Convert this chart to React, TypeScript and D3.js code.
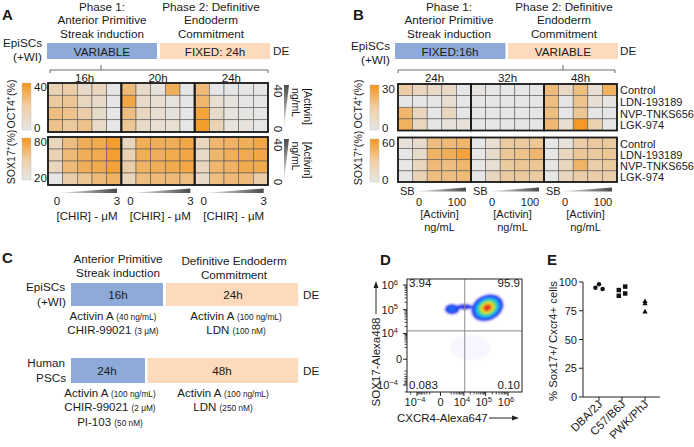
import React, { useEffect } from 'react';
import * as d3 from 'd3';

const FONT = "'Liberation Sans', Arial, Helvetica, sans-serif";
const INK = '#1a1a1a';
const LOW = '#e6e6e6';
const HIGH = '#f6961c';
const BLUE = '#8eaad8';
const PEACH = '#fcdabb';

// ---------- shared header text ----------
const phase1Lines = ['Phase 1:', 'Anterior Primitive', 'Streak induction'];
const phase2Lines = ['Phase 2: Definitive', 'Endoderm', 'Commitment'];
const cellLines = ['EpiSCs', '(+WI)'];

// ---------- Panel A ----------
const aBarLabels = ['VARIABLE', 'FIXED: 24h'];
const aTimes = ['16h', '20h', '24h'];
// rows: [Activin] 40 -> 0 ; cols: [CHIR] 0 -> 3 uM
const aOct4 = [
  [[10, 12, 6, 8, 0], [14, 16, 8, 6, 0], [20, 18, 12, 6, 0], [18, 14, 18, 6, 0]],
  [[22, 6, 2, 28, 0], [32, 6, 4, 2, 0], [20, 8, 4, 2, 0], [16, 6, 4, 4, 0]],
  [[22, 0, 0, 0, 0], [24, 4, 2, 0, 0], [34, 6, 2, 1, 0], [36, 10, 2, 2, 0]],
];
const aSox17 = [
  [[32, 50, 62, 65, 74], [35, 53, 62, 65, 74], [32, 53, 62, 65, 71], [20, 38, 44, 53, 59]],
  [[32, 62, 62, 62, 68], [35, 62, 62, 65, 68], [38, 59, 62, 65, 68], [32, 50, 53, 53, 50]],
  [[32, 56, 59, 62, 68], [29, 56, 62, 65, 68], [32, 56, 59, 65, 65], [29, 50, 53, 53, 38]],
];
const aOct4Range = [0, 40];
const aSox17Range = [20, 80];
const aChirTicks = ['0', '3'];
const aActivinTicks = ['40', '0'];

// ---------- Panel B ----------
const bBarLabels = ['FIXED:16h', 'VARIABLE'];
const bTimes = ['24h', '32h', '48h'];
const bTreatments = ['Control', 'LDN-193189', 'NVP-TNKS656', 'LGK-974'];
// rows: treatments ; cols: SB, [Activin] 0 -> 100 ng/mL
const bOct4 = [
  [[10, 6, 5, 5, 0], [0, 0, 0, 3, 0], [18, 6, 0, 6, 0], [20, 6, 0, 2, 2]],
  [[1, 0, 0, 0, 0], [0, 0, 0, 0, 0], [0, 0, 0, 0, 0], [0, 0, 0, 0, 0]],
  [[16, 5, 15, 3, 20], [15, 0, 13, 3, 1], [15, 0, 12, 0, 0], [17, 3, 29, 8, 0]],
];
const bSox17 = [
  [[4, 8, 30, 33, 36], [0, 9, 39, 42, 51], [0, 12, 33, 30, 36], [0, 15, 30, 30, 33]],
  [[0, 6, 21, 21, 24], [0, 9, 24, 27, 36], [0, 6, 21, 24, 24], [0, 12, 21, 21, 21]],
  [[0, 3, 18, 21, 21], [0, 12, 24, 21, 24], [0, 12, 39, 18, 21], [0, 12, 18, 18, 18]],
];
const bOct4Range = [0, 30];
const bSox17Range = [0, 60];
const bActivinTicks = ['0', '100'];

// ---------- Panel C ----------
const cHeaders = [['Anterior Primitive', 'Streak induction'], ['Definitive Endoderm', 'Commitment']];
const cCells = [['EpiSCs', '(+WI)'], ['Human', 'PSCs']];
const cPhase1Hours = ['16h', '24h'];
const cPhase2Hours = ['24h', '48h'];
const cPhase1Reagents = [
  [['Activin A', '(40 ng/mL)'], ['CHIR-99021', '(3 μM)']],
  [['Activin A', '(100 ng/mL)'], ['CHIR-99021', '(2 μM)'], ['PI-103', '(50 nM)']],
];
const cPhase2Reagents = [
  [['Activin A', '(100 ng/mL)'], ['LDN', '(100 nM)']],
  [['Activin A', '(100 ng/mL)'], ['LDN', '(250 nM)']],
];

// ---------- Panel D ----------
const dQuadrants = ['3.94', '95.9', '0.083', '0.10'];
const dTicks = [-1e4, 0, 1e4, 1e5, 1e6];
const dTickExp = ['-4', '', '4', '5', '6'];
const dXLim = [-29600, 4.18e6];
const dYLim = [-20100, 1.75e6];
const dGate = [1.1e4, 1.3e4];
// populations: centre (fluorescence units), spread (decades), relative peak density
const dPopX = [1.2e5, 2300, 1.1e4, 2.0e4];
const dPopY = [1.2e5, 1.05e5, 1.3e5, 2.0e3];
const dPopSx = [0.29, 0.2, 0.3, 0.8];
const dPopSy = [0.2, 0.13, 0.1, 0.45];
const dPopPeak = [1, 0.12, 0.06, 0.02];
const dPopAngle = [-25, 0, 0, 0];
const dLevels = [0.01, 0.03, 0.08, 0.16, 0.3, 0.45, 0.6, 0.75, 0.88];
const dLevelColors = ['#e6e8fb', '#2233ee', '#1f6ff5', '#1fc0ec', '#3ddc6a', '#c8e62c', '#f4d21e', '#f3761f', '#e2242b'];

// ---------- Panel E ----------
const eStrains = ['DBA/2J', 'C57/B6J', 'PWK/PhJ'];
const eDBA = [95, 98, 94];
const eC57 = [93, 88, 96, 90];
const ePWK = [83, 81, 74];
const eTicks = [0, 25, 50, 75, 100];

// ------------------------------------------------------------------
const Txt = (p: any) => <text fill={INK} fontFamily={FONT} {...p} />;

function Heatmap({ groups, x0, x1, y0, y1, domain }: any) {
  const nG = groups.length, nR = groups[0].length, nC = groups[0][0].length;
  const xs = d3.scaleBand<number>().domain(d3.range(nG * nC)).range([x0, x1]);
  const ys = d3.scaleBand<number>().domain(d3.range(nR)).range([y0, y1]);
  const color = d3.scaleLinear<string>().domain(domain).range([LOW, HIGH]).clamp(true);
  return (
    <g>
      {groups.map((g: number[][], gi: number) =>
        g.map((row, ri) =>
          row.map((v, ci) => (
            <rect key={`${gi}-${ri}-${ci}`} x={xs(gi * nC + ci)} y={ys(ri)} width={xs.bandwidth()} height={ys.bandwidth()}
              fill={color(v)} stroke="#5c5c5c" strokeWidth={0.6} />
          ))
        )
      )}
      {groups.map((_: any, gi: number) => (
        <rect key={'b' + gi} x={xs(gi * nC)} y={y0} width={xs.bandwidth() * nC} height={y1 - y0}
          fill="none" stroke="#1a1a1a" strokeWidth={1.8} />
      ))}
    </g>
  );
}

function groupStarts(n: number, x0: number, x1: number) {
  const s = d3.scaleBand<number>().domain(d3.range(n)).range([x0, x1]);
  return d3.range(n).map((i) => ({ start: s(i) as number, w: s.bandwidth(), c: (s(i) as number) + s.bandwidth() / 2 }));
}

function Rot({ x, y, a, children, ...rest }: any) {
  return (
    <Txt transform={`translate(${x},${y}) rotate(${a})`} textAnchor="middle" {...rest}>{children}</Txt>
  );
}

function Header({ cx1, cx2, y0 }: any) {
  return (
    <g fontSize={11.7}>
      {phase1Lines.map((t, i) => <Txt key={'p1' + i} x={cx1} y={y0 + i * 13.7} textAnchor="middle">{t}</Txt>)}
      {phase2Lines.map((t, i) => <Txt key={'p2' + i} x={cx2} y={y0 + i * 13.7} textAnchor="middle">{t}</Txt>)}
    </g>
  );
}

function ColorBar({ x, y, h, ticks, label, labelX, labelY }: any) {
  return (
    <g>
      <rect x={x} y={y} width={9} height={h} fill="url(#cbar)" stroke="#bbb" strokeWidth={0.4} />
      <Txt x={x + 12} y={y + 8} fontSize={11.5}>{ticks[1]}</Txt>
      <Txt x={x + 12} y={y + h + 1.5} fontSize={11.5}>{ticks[0]}</Txt>
      <Rot x={labelX} y={labelY} a={-90} fontSize={10.6}>
        {label}<tspan dy={-4} fontSize={7}>+</tspan><tspan dy={4}>(%)</tspan>
      </Rot>
    </g>
  );
}

function Sup({ base, exp }: any) {
  if (!exp) return <>{base}</>;
  return <>{base}<tspan dy={-4.5} fontSize={7.5}>{exp.replace('-', '−')}</tspan></>;
}

export default function App() {
  useEffect(() => { document.body.style.margin = '0'; }, []);

  // ---------- A layout ----------
  const aX0 = 48, aX1 = 268;
  const aGroups = groupStarts(3, aX0, aX1);
  // ---------- B layout ----------
  const bX0 = 398, bX1 = 617;
  const bGroups = groupStarts(3, bX0, bX1);
  const bRowsO = d3.scaleBand<number>().domain(d3.range(4)).range([84, 130.5]);
  const bRowsS = d3.scaleBand<number>().domain(d3.range(4)).range([137.5, 182]);

  // ---------- D scales ----------
  const dx = d3.scaleSymlog().constant(1000).domain(dXLim).range([407, 522]);
  const dy = d3.scaleSymlog().constant(1000).domain(dYLim).range([392, 279]);
  const decX = dx(1e5) - dx(1e4);
  const decY = dy(1e4) - dy(1e5);
  const minor: number[] = [];
  [1e3, 1e4, 1e5].forEach((p) => d3.range(2, 10).forEach((m) => { minor.push(m * p); minor.push(-m * p); }));
  const minorX = minor.filter((v) => v > dXLim[0] && v < dXLim[1]);
  const minorY = minor.filter((v) => v > dYLim[0] && v < dYLim[1]);

  // ---------- E scales ----------
  const ey = d3.scaleLinear().domain([0, 100]).range([397, 282]);
  const ex = d3.scalePoint<string>().domain(eStrains).range([599, 645]);
  const eSeries = [
    { name: eStrains[0], vals: eDBA, shape: d3.symbolCircle, size: 16, cols: 3, gap: 3.6 },
    { name: eStrains[1], vals: eC57, shape: d3.symbolSquare, size: 20, cols: 2, gap: 6.4 },
    { name: eStrains[2], vals: ePWK, shape: d3.symbolTriangle, size: 12, cols: 1, gap: 0 },
  ];

  const hWedge = (x0: number, x1: number, y0: number, y1: number) => `M${x0},${y1} L${x1},${y0} L${x1},${y1} Z`;
  const vWedge = (x0: number, x1: number, y0: number, y1: number) => `M${x0},${y0} L${x1},${y0} L${x0},${y1} Z`;

  return (
    <svg width={694} height={447} style={{ position: 'absolute', left: 0, top: 0, background: '#fff' }} fontFamily={FONT}>
      <defs>
        <linearGradient id="cbar" x1="0" y1="0" x2="0" y2="1">
          <stop offset="0" stopColor={HIGH} />
          <stop offset="0.5" stopColor="#f0cfa4" />
          <stop offset="1" stopColor={LOW} />
        </linearGradient>
        <linearGradient id="hw" x1="0" y1="0" x2="1" y2="0">
          <stop offset="0" stopColor="#f2f2f2" />
          <stop offset="1" stopColor="#4a4a4a" />
        </linearGradient>
        <linearGradient id="vw" x1="0" y1="1" x2="0" y2="0">
          <stop offset="0" stopColor="#f2f2f2" />
          <stop offset="1" stopColor="#4a4a4a" />
        </linearGradient>
        <filter id="soft" x="-20%" y="-20%" width="140%" height="140%">
          <feGaussianBlur stdDeviation="0.8" />
        </filter>
        <clipPath id="dclip"><rect x={407} y={279} width={115} height={113} /></clipPath>
      </defs>

      {/* ================= Panel A ================= */}
      <Txt x={2} y={20} fontSize={15} fontWeight="bold">A</Txt>
      <Header cx1={102} cx2={211} y0={10.5} />
      <g fontSize={11.7}>
        <Txt x={42} y={47} textAnchor="end">{cellLines[0]}</Txt>
        <Txt x={42} y={61} textAnchor="end">{cellLines[1]}</Txt>
      </g>
      <rect x={47} y={43} width={110} height={16} fill={BLUE} />
      <rect x={160} y={43} width={110} height={16} fill={PEACH} />
      <Txt x={102} y={55.5} fontSize={11.7} textAnchor="middle">{aBarLabels[0]}</Txt>
      <Txt x={215} y={55.5} fontSize={11.7} textAnchor="middle">{aBarLabels[1]}</Txt>
      <Txt x={273} y={55} fontSize={11.7}>DE</Txt>
      <path d={`M${aX0 + 2},73 V70 H${aX1} V73 M101,70 V65`} fill="none" stroke="#444" strokeWidth={0.8} />
      {aGroups.map((g, i) => <Txt key={'at' + i} x={g.c} y={81.5} fontSize={11.5} textAnchor="middle">{aTimes[i]}</Txt>)}
      <Heatmap groups={aOct4} x0={aX0} x1={aX1} y0={83} y1={132} domain={aOct4Range} />
      <Heatmap groups={aSox17} x0={aX0} x1={aX1} y0={137} y1={185} domain={aSox17Range} />
      <ColorBar x={22} y={83} h={47} ticks={aOct4Range.map(String)} label="OCT4" labelX={15} labelY={104} />
      <ColorBar x={22} y={138} h={42} ticks={aSox17Range.map(String)} label="SOX17" labelX={15} labelY={157} />
      {/* right side activin wedges */}
      {[[83, 132], [137, 185]].map(([y0, y1], i) => (
        <g key={'aw' + i}>
          <path d={vWedge(284, 289, y0 + 2, y1 - 4)} fill="url(#vw)" />
          <Rot x={274} y={y0 + 8} a={90} fontSize={11.5}>{aActivinTicks[0]}</Rot>
          <Rot x={274} y={y1 - 3} a={90} fontSize={11.5}>{aActivinTicks[1]}</Rot>
          <Rot x={292} y={(y0 + y1) / 2 - 5} a={90} fontSize={10.5}>ng/mL</Rot>
          <Rot x={303.5} y={(y0 + y1) / 2 - 1} a={90} fontSize={10.5}>[Activin]</Rot>
        </g>
      ))}
      {aGroups.map((g, i) => {
        const x0 = g.start + 9, x1 = g.start + 69;
        return (
          <g key={'ab' + i}>
            <path d={hWedge(x0, x1, 188.5, 193)} fill="url(#hw)" />
            <Txt x={x0} y={205} fontSize={11.5} textAnchor="middle">{aChirTicks[0]}</Txt>
            <Txt x={x1} y={205} fontSize={11.5} textAnchor="middle">{aChirTicks[1]}</Txt>
            <Txt x={(x0 + x1) / 2} y={220} fontSize={11.5} textAnchor="middle">[CHIR] - μM</Txt>
          </g>
        );
      })}

      {/* ================= Panel B ================= */}
      <Txt x={353} y={20} fontSize={15} fontWeight="bold">B</Txt>
      <Header cx1={449} cx2={564} y0={10.5} />
      <g fontSize={11.7}>
        <Txt x={390} y={50} textAnchor="end">{cellLines[0]}</Txt>
        <Txt x={390} y={63.5} textAnchor="end">{cellLines[1]}</Txt>
      </g>
      <rect x={395} y={43} width={110.5} height={16} fill={BLUE} />
      <rect x={508} y={43} width={110} height={16} fill={PEACH} />
      <Txt x={450} y={55.5} fontSize={11.7} textAnchor="middle">{bBarLabels[0]}</Txt>
      <Txt x={563} y={55.5} fontSize={11.7} textAnchor="middle">{bBarLabels[1]}</Txt>
      <Txt x={620} y={55} fontSize={11.7}>DE</Txt>
      <path d={`M${bX0},73 V70 H${bX1 - 2} V73 M563,70 V65`} fill="none" stroke="#444" strokeWidth={0.8} />
      {bGroups.map((g, i) => <Txt key={'bt' + i} x={g.c} y={81.5} fontSize={11.5} textAnchor="middle">{bTimes[i]}</Txt>)}
      <Heatmap groups={bOct4} x0={bX0} x1={bX1} y0={84} y1={130.5} domain={bOct4Range} />
      <Heatmap groups={bSox17} x0={bX0} x1={bX1} y0={137.5} y1={182} domain={bSox17Range} />
      {bTreatments.map((t, i) => (
        <g key={'bl' + i} fontSize={11}>
          <Txt x={620} y={(bRowsO(i) as number) + bRowsO.bandwidth() / 2 + 4.5}>{t}</Txt>
          <Txt x={620} y={(bRowsS(i) as number) + bRowsS.bandwidth() / 2 + 5}>{t}</Txt>
        </g>
      ))}
      <ColorBar x={370} y={85} h={45} ticks={bOct4Range.map(String)} label="OCT4" labelX={362} labelY={104} />
      <ColorBar x={370} y={139} h={43} ticks={bSox17Range.map(String)} label="SOX17" labelX={362} labelY={158} />
      {bGroups.map((g, i) => {
        const x0 = g.start + 15, x1 = g.start + 68;
        return (
          <g key={'bb' + i} fontSize={11}>
            <Txt x={g.start + 2} y={195}>SB</Txt>
            <path d={hWedge(x0, x1, 187.5, 191.5)} fill="url(#hw)" />
            <Txt x={g.start + 21} y={205.5} textAnchor="middle">{bActivinTicks[0]}</Txt>
            <Txt x={g.start + 59} y={205.5} textAnchor="middle">{bActivinTicks[1]}</Txt>
            <Txt x={(x0 + x1) / 2} y={217.5} textAnchor="middle">[Activin]</Txt>
            <Txt x={(x0 + x1) / 2} y={231} textAnchor="middle">ng/mL</Txt>
          </g>
        );
      })}

      {/* ================= Panel C ================= */}
      <Txt x={2} y={263} fontSize={15} fontWeight="bold">C</Txt>
      <g fontSize={11.7}>
        <Txt x={118} y={263} textAnchor="middle">{cHeaders[0][0]}</Txt>
        <Txt x={118} y={276.5} textAnchor="middle">{cHeaders[0][1]}</Txt>
        <Txt x={234} y={265} textAnchor="middle">{cHeaders[1][0]}</Txt>
        <Txt x={234} y={278.5} textAnchor="middle">{cHeaders[1][1]}</Txt>
      </g>
      {[
        { y: 283, h: 23, b1: 163, b2: 166, c1: 118, c2: 233, r1: 113, r2: 236, lblY: 291 },
        { y: 358, h: 25, b1: 145, b2: 147.5, c1: 107, c2: 222, r1: 110, r2: 223, lblY: 367 },
      ].map((L, i) => (
        <g key={'c' + i}>
          <Txt x={65} y={L.lblY} fontSize={11.7} textAnchor="end">{cCells[i][0]}</Txt>
          <Txt x={66} y={L.lblY + 14.5} fontSize={11.7} textAnchor="end">{cCells[i][1]}</Txt>
          <rect x={71} y={L.y} width={L.b1 - 71} height={L.h} fill={BLUE} />
          <rect x={L.b2} y={L.y} width={298 - L.b2} height={L.h} fill={PEACH} />
          <Txt x={L.c1} y={L.y + L.h / 2 + 4.5} fontSize={11.7} textAnchor="middle">{cPhase1Hours[i]}</Txt>
          <Txt x={L.c2} y={L.y + L.h / 2 + 4.5} fontSize={11.7} textAnchor="middle">{cPhase2Hours[i]}</Txt>
          <Txt x={303} y={L.y + L.h / 2 + 4.5} fontSize={11.7}>DE</Txt>
          {cPhase1Reagents[i].map((r, j) => (
            <Txt key={'r1' + j} x={L.r1} y={L.y + L.h + 14 + j * 14.3} fontSize={11.5} textAnchor="middle">
              {r[0]} <tspan fontSize={8.3}>{r[1]}</tspan>
            </Txt>
          ))}
          {cPhase2Reagents[i].map((r, j) => (
            <Txt key={'r2' + j} x={L.r2} y={L.y + L.h + 14 + j * 14.3} fontSize={11.5} textAnchor="middle">
              {r[0]} <tspan fontSize={8.3}>{r[1]}</tspan>
            </Txt>
          ))}
        </g>
      ))}

      {/* ================= Panel D ================= */}
      <Txt x={380} y={265} fontSize={15} fontWeight="bold">D</Txt>
      <g clipPath="url(#dclip)">
        <g filter="url(#soft)">
          {dLevels.map((L, li) =>
            dPopX.map((px, pi) => {
              const p = dPopPeak[pi];
              if (p <= L) return null;
              const k = Math.sqrt(2 * Math.log(p / L));
              return (
                <ellipse key={`e${li}-${pi}`} cx={dx(px)} cy={dy(dPopY[pi])}
                  rx={k * dPopSx[pi] * decX} ry={k * dPopSy[pi] * decY}
                  transform={`rotate(${dPopAngle[pi]},${dx(px)},${dy(dPopY[pi])})`}
                  fill={dLevelColors[li]} fillOpacity={li === 0 ? 0.35 : 0.95} />
              );
            })
          )}
        </g>
      </g>
      <line x1={dx(dGate[0])} x2={dx(dGate[0])} y1={279} y2={392} stroke="#8a8a8a" strokeWidth={1} />
      <line x1={407} x2={522} y1={dy(dGate[1])} y2={dy(dGate[1])} stroke="#8a8a8a" strokeWidth={1} />
      <rect x={407} y={279} width={115} height={113} fill="none" stroke="#222" strokeWidth={1} />
      {minorX.map((v, i) => <line key={'mx' + i} x1={dx(v)} x2={dx(v)} y1={392} y2={394.5} stroke="#222" strokeWidth={0.8} />)}
      {minorY.map((v, i) => <line key={'my' + i} x1={404.5} x2={407} y1={dy(v)} y2={dy(v)} stroke="#222" strokeWidth={0.8} />)}
      {dTicks.map((v, i) => (
        <g key={'dt' + i}>
          <line x1={dx(v)} x2={dx(v)} y1={392} y2={396} stroke="#222" strokeWidth={1} />
          <line x1={403} x2={407} y1={dy(v)} y2={dy(v)} stroke="#222" strokeWidth={1} />
          <Txt x={dx(v) + (dTickExp[i] ? -2 : 0)} y={406} fontSize={11} textAnchor="middle">
            <Sup base={dTickExp[i] ? '10' : '0'} exp={dTickExp[i]} />
          </Txt>
          <Txt x={dTickExp[i] ? 398 : 402} y={dy(v) + 4} fontSize={11} textAnchor="end">
            <Sup base={dTickExp[i] ? '10' : '0'} exp={dTickExp[i]} />
          </Txt>
        </g>
      ))}
      <g fontSize={11.5}>
        <Txt x={409} y={287}>{dQuadrants[0]}</Txt>
        <Txt x={520} y={287} textAnchor="end">{dQuadrants[1]}</Txt>
        <Txt x={409} y={388.5}>{dQuadrants[2]}</Txt>
        <Txt x={520} y={388.5} textAnchor="end">{dQuadrants[3]}</Txt>
      </g>
      <Txt x={397} y={421.5} fontSize={11.5}>CXCR4-Alexa647</Txt>
      <line x1={489} x2={514} y1={418} y2={418} stroke="#222" strokeWidth={1} />
      <path d="M519,418 L512,415.5 L512,420.5 Z" fill="#222" />
      <Rot x={380} y={362} a={-90} fontSize={11.5}>SOX17-Alexa488</Rot>
      <line x1={376} x2={376} y1={314} y2={287} stroke="#222" strokeWidth={1} />
      <path d="M376,281 L373.5,288 L378.5,288 Z" fill="#222" />

      {/* ================= Panel E ================= */}
      <Txt x={547} y={265} fontSize={15} fontWeight="bold">E</Txt>
      <line x1={583} x2={583} y1={ey(100)} y2={ey(0)} stroke="#222" strokeWidth={1} />
      <line x1={583} x2={660} y1={ey(0)} y2={ey(0)} stroke="#222" strokeWidth={1} />
      {eTicks.map((t) => (
        <g key={'et' + t}>
          <line x1={579} x2={583} y1={ey(t)} y2={ey(t)} stroke="#222" strokeWidth={1} />
          <Txt x={577} y={ey(t) + 4} fontSize={11} textAnchor="end">{t}</Txt>
        </g>
      ))}
      {eStrains.map((s) => (
        <g key={'es' + s}>
          <line x1={ex(s)} x2={ex(s)} y1={ey(0)} y2={ey(0) + 4} stroke="#222" strokeWidth={1} />
          <Txt transform={`translate(${(ex(s) as number) + 4},${ey(0) + 8}) rotate(-45)`} fontSize={11.5} textAnchor="end">{s}</Txt>
        </g>
      ))}
      {eSeries.map((sr) => sr.vals.map((v, i) => {
        const col = sr.cols === 3 ? i - 1 : sr.cols === 2 ? (i < 2 ? -0.5 : 0.5) : 0;
        const sym = d3.symbol().type(sr.shape).size(sr.size)() as string;
        return <path key={sr.name + i} d={sym} transform={`translate(${(ex(sr.name) as number) + col * sr.gap},${ey(v)})`} fill="#111" />;
      }))}
      <Rot x={557} y={341} a={-90} fontSize={11.3}>% Sox17+/ Cxcr4+ cells</Rot>
    </svg>
  );
}
